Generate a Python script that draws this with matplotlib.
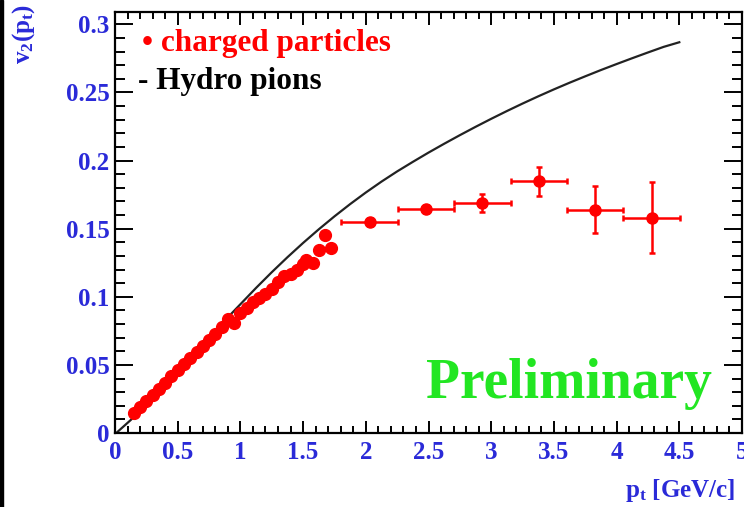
import numpy as np
import matplotlib
matplotlib.use('Agg')
import matplotlib.pyplot as plt
from matplotlib.ticker import MultipleLocator
from matplotlib.patches import Rectangle

# charged particles, low pt (dense points, no visible errors)
pt_low = [0.15, 0.20, 0.25, 0.30, 0.35, 0.40, 0.45, 0.50, 0.55, 0.60,
          0.65, 0.70, 0.75, 0.80, 0.85, 0.90, 0.95, 1.00, 1.05, 1.10,
          1.15, 1.20, 1.25, 1.30, 1.35, 1.40, 1.45, 1.50, 1.525, 1.575,
          1.625, 1.675, 1.725]
v2_low = [0.0145, 0.019, 0.0235, 0.028, 0.0325, 0.037, 0.0415, 0.046, 0.0505, 0.055,
          0.0595, 0.064, 0.0685, 0.073, 0.0775, 0.0835, 0.081, 0.088, 0.092, 0.096,
          0.099, 0.102, 0.106, 0.111, 0.115, 0.117, 0.120, 0.124, 0.127, 0.125,
          0.134, 0.145, 0.136]

# charged particles, high pt bins
pt_high = [2.03, 2.48, 2.93, 3.38, 3.83, 4.28]
v2_high = [0.155, 0.1645, 0.169, 0.1848, 0.164, 0.158]
pt_err = [0.225, 0.225, 0.225, 0.225, 0.225, 0.225]
v2_err = [0.003, 0.003, 0.0066, 0.0105, 0.017, 0.026]

# hydro pions curve
pt_hydro = [0.01, 0.125, 0.25, 0.375, 0.5, 0.625, 0.75, 0.875, 1.0, 1.125,
            1.25, 1.375, 1.5, 1.625, 1.75, 1.875, 2.0, 2.125, 2.25, 2.375,
            2.5, 2.625, 2.75, 2.875, 3.0, 3.125, 3.25, 3.375, 3.5, 3.625,
            3.75, 3.875, 4.0, 4.125, 4.25, 4.375, 4.5]
v2_hydro = [0.0, 0.0095, 0.021, 0.033, 0.045, 0.0575, 0.070, 0.0825, 0.0945, 0.1065,
            0.118, 0.129, 0.1395, 0.1495, 0.159, 0.168, 0.1765, 0.1845, 0.192, 0.199,
            0.2058, 0.2123, 0.2186, 0.2247, 0.2306, 0.2363, 0.2418, 0.2471, 0.2522, 0.2571,
            0.2618, 0.2664, 0.2708, 0.2751, 0.2793, 0.2834, 0.2868]

blue = '#2a2ad8'
plt.rcParams['font.family'] = ['Liberation Serif', 'DejaVu Serif']
plt.rcParams['font.weight'] = 'bold'
plt.rcParams['mathtext.fontset'] = 'custom'
plt.rcParams['mathtext.rm'] = 'Liberation Serif:bold'
plt.rcParams['mathtext.it'] = 'Liberation Serif:bold'
plt.rcParams['mathtext.bf'] = 'Liberation Serif:bold'

fig = plt.figure(figsize=(7.44, 5.07), dpi=100)
# dark strip on the left edge of the scan
fig.patches.append(Rectangle((0, 0), 3 / 744, 1, transform=fig.transFigure,
                             color='black', zorder=0))
ax = fig.add_axes([115 / 744, 1 - 433 / 507, 627 / 744, 421 / 507])

ax.plot(pt_hydro, v2_hydro, color='#222222', lw=1.6)
ax.plot(pt_low, v2_low, 'o', color='red', ms=8.5, mec='red')
ax.errorbar(pt_high, v2_high, xerr=pt_err, yerr=v2_err, fmt='o', color='red',
            ms=8, elinewidth=1.8, capsize=2.5, capthick=1.8)

ax.set_xlim(0, 5)
ax.set_ylim(0, 0.309)
ax.xaxis.set_minor_locator(MultipleLocator(0.1))
ax.yaxis.set_minor_locator(MultipleLocator(0.01))
ax.set_xticks([0, 0.5, 1, 1.5, 2, 2.5, 3, 3.5, 4, 4.5, 5])
ax.set_xticklabels(['0', '0.5', '1', '1.5', '2', '2.5', '3', '3.5', '4', '4.5', '5'])
ax.set_yticks([0, 0.05, 0.1, 0.15, 0.2, 0.25, 0.3])
ax.set_yticklabels(['0', '0.05', '0.1', '0.15', '0.2', '0.25', '0.3'])

ax.tick_params(which='both', direction='in', top=True, right=True,
               labelsize=18, labelcolor=blue, width=1.4)
ax.tick_params(axis='x', which='major', length=9, pad=6)
ax.tick_params(axis='x', which='minor', length=5)
ax.tick_params(axis='y', which='major', length=13, pad=4)
ax.tick_params(axis='y', which='minor', length=7)
for s in ax.spines.values():
    s.set_linewidth(1.6)

ax.set_xlabel(r'$\mathrm{p_t}$ [GeV/c]', fontsize=18, color=blue,
              fontweight='bold', loc='right')
ax.xaxis.set_label_coords(0.99, -0.105)
ax.set_ylabel(r'$\mathrm{v_2(p_t)}$', fontsize=18, color=blue,
              fontweight='bold', loc='top')
ax.yaxis.set_label_coords(-0.125, 1.02)

ax.text(0.043, 0.924, u'\u2022 charged particles', transform=ax.transAxes,
        color='red', fontsize=22.5, va='center', ha='left')
ax.text(0.037, 0.836, '- Hydro pions', transform=ax.transAxes,
        color='black', fontsize=22.5, va='center', ha='left')
ax.text(0.952, 0.083, 'Preliminary', transform=ax.transAxes,
        color='#22e622', fontsize=40, va='baseline', ha='right')

fig.savefig('out.png', dpi=100)
